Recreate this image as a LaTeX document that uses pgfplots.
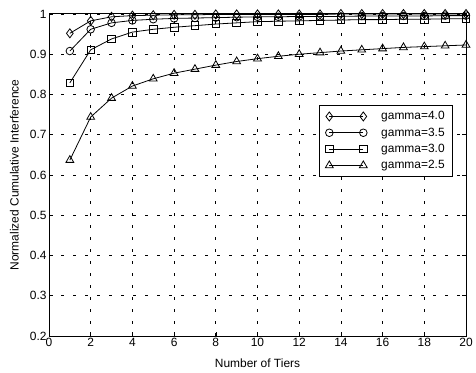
\documentclass[border=0pt]{standalone}
\usepackage{fontspec}
\setmainfont{Liberation Sans}
\usepackage{pgfplots}
\pgfplotsset{compat=1.18}
\begin{document}
\begin{tikzpicture}[x=1bp,y=1bp]
\begin{axis}[
  at={(0,0)}, anchor=origin,
  scale only axis, width=417bp, height=322bp,
  xmin=0, xmax=20, ymin=0.2, ymax=1,
  xtick={0,2,...,20},
  ytick={0.2,0.3,...,1.0},
  yticklabels={0.2,0.3,0.4,0.5,0.6,0.7,0.8,0.9,1},
  tick align=inside, tick style={black, line width=0.6pt}, major tick length=4bp,
  axis line style={line width=1pt},
  grid=major,
  major grid style={black, line width=0.7pt, dash pattern=on 3bp off 9bp},
  /pgf/number format/assume math mode=true,
  tick label style={font=\fontsize{12}{14}\selectfont},
  yticklabel style={xshift=1bp},
  xticklabel style={yshift=1bp},
  xlabel={Number of Tiers}, ylabel={Normalized Cumulative Interference},
  label style={font=\fontsize{12}{14}\selectfont},
  xlabel style={at={(axis description cs:0.5,-0.084)}, anchor=center},
  ylabel style={at={(axis description cs:-0.083,0.5)}, anchor=center, rotate=0},
  every axis plot/.append style={black, line width=0.8pt, mark options={solid, fill=white, line width=0.8pt}},
  legend style={at={(0.969,0.717)}, anchor=north east, draw=black, line width=0.8pt,
    font=\fontsize{12}{14}\selectfont, row sep=2.5bp, inner xsep=6bp, inner ysep=4bp, cells={anchor=west}},
  legend image code/.code={\draw[#1, mark repeat=2, mark phase=1] plot coordinates {(0bp,0bp) (17bp,0bp) (34bp,0bp)};},
  legend cell align=left,
]
\addplot[mark=diamond, mark size=4.5bp] coordinates {
(1,0.952)(2,0.983)(3,0.993)(4,0.996)(5,0.997)(6,0.998)(7,0.998)(8,0.999)(9,0.999)(10,0.999)
(11,0.999)(12,0.999)(13,0.999)(14,1.0)(15,1.0)(16,1.0)(17,1.0)(18,1.0)(19,1.0)(20,1.0)};
\addlegendentry{\hspace{12bp}gamma=4.0}
\addplot[mark=o, mark size=3.8bp] coordinates {
(1,0.908)(2,0.962)(3,0.978)(4,0.984)(5,0.987)(6,0.989)(7,0.990)(8,0.991)(9,0.992)(10,0.993)
(11,0.993)(12,0.994)(13,0.994)(14,0.994)(15,0.995)(16,0.995)(17,0.995)(18,0.995)(19,0.996)(20,0.996)};
\addlegendentry{\hspace{12bp}gamma=3.5}
\addplot[mark=square, mark size=3.8bp] coordinates {
(1,0.829)(2,0.911)(3,0.938)(4,0.955)(5,0.962)(6,0.967)(7,0.971)(8,0.975)(9,0.978)(10,0.981)
(11,0.982)(12,0.983)(13,0.984)(14,0.985)(15,0.986)(16,0.986)(17,0.987)(18,0.987)(19,0.988)(20,0.988)};
\addlegendentry{\hspace{12bp}gamma=3.0}
\addplot[mark=triangle, mark size=4.5bp] coordinates {
(1,0.637)(2,0.744)(3,0.791)(4,0.821)(5,0.839)(6,0.853)(7,0.863)(8,0.873)(9,0.882)(10,0.889)
(11,0.895)(12,0.900)(13,0.904)(14,0.908)(15,0.911)(16,0.914)(17,0.917)(18,0.919)(19,0.921)(20,0.923)};
\addlegendentry{\hspace{12bp}gamma=2.5}
\end{axis}
\pgfresetboundingbox
\path (-49bp,-37bp) rectangle (427bp,336bp);
\end{tikzpicture}
\end{document}
